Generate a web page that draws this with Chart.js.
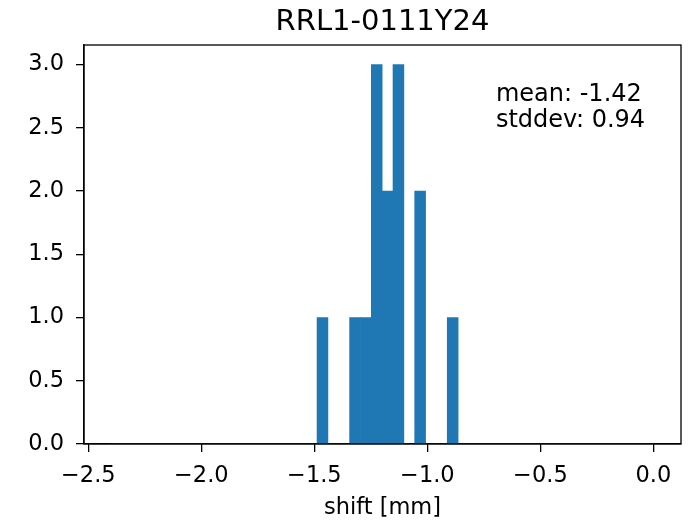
<!DOCTYPE html>
<html>
<head>
<meta charset="utf-8">
<script src="https://cdn.jsdelivr.net/npm/chart.js@4"></script>
<style>
  html, body { margin: 0; padding: 0; background: #fff; }
  #wrap { width: 700px; height: 524px; }
</style>
</head>
<body>
<div id="wrap"><canvas id="myChart"></canvas></div>
<script>
// histogram bins (50 bins from -2.4 to 0.0)
const binStart = -2.4
const binWidth = 0.048
const counts = [
  0, 0, 0, 0, 0, 0, 0, 0, 0, 0,
  0, 0, 0, 0, 0, 0, 0, 0, 0, 1,
  0, 0, 1, 1, 3, 2, 3, 0, 2, 0,
  0, 1, 0, 0, 0, 0, 0, 0, 0, 0,
  0, 0, 0, 0, 0, 0, 0, 0, 0, 0
]
const xTicks = [-2.5, -2.0, -1.5, -1.0, -0.5, 0.0]
const yTicks = [0, 0.5, 1.0, 1.5, 2.0, 2.5, 3.0]
const titleText = 'RRL1-0111Y24'
const statLines = ['mean: -1.42', 'stddev: 0.94']

const font = 'DejaVu Sans'
const fmt = (v) => v.toFixed(1).replace('-', '\u2212')

const points = counts.map((c, i) => ({ x: binStart + (i + 0.5) * binWidth, y: c }))

// frame, title and the stats text
const extras = {
  id: 'extras',
  afterDraw(chart) {
    const { ctx, chartArea: a } = chart
    ctx.save()
    ctx.strokeStyle = '#000'
    ctx.lineWidth = 1.3
    ctx.strokeRect(a.left, a.top, a.right - a.left, a.bottom - a.top)

    ctx.fillStyle = '#000'
    ctx.textAlign = 'center'
    ctx.textBaseline = 'alphabetic'
    ctx.font = '29px "' + font + '"'
    ctx.fillText(titleText, (a.left + a.right) / 2, 30)

    ctx.textAlign = 'left'
    ctx.font = '24px "' + font + '"'
    const x0 = a.left + 0.69 * (a.right - a.left)
    statLines.forEach((t, i) => ctx.fillText(t, x0, 101 + i * 26))
    ctx.restore()
  }
}

const ctx = document.getElementById('myChart').getContext('2d')
const myChart = new Chart(ctx, {
  type: 'bar',
  data: {
    datasets: [{
      data: points,
      backgroundColor: '#1f77b4',
      borderWidth: 0,
      barPercentage: 1,
      categoryPercentage: 1
    }]
  },
  options: {
    responsive: true,
    maintainAspectRatio: false,
    animation: false,
    layout: { padding: { left: 0, top: 45, right: 19, bottom: 0 } },
    plugins: { legend: { display: false }, tooltip: { enabled: false } },
    scales: {
      x: {
        type: 'linear',
        offset: false,
        min: -2.519,
        max: 0.122,
        afterBuildTicks: (s) => { s.ticks = xTicks.map(v => ({ value: v })) },
        afterFit: (s) => { s.height = 80 },
        ticks: {
          color: '#000',
          padding: 11,
          maxRotation: 0,
          autoSkip: false,
          font: { family: font, size: 22.5 },
          callback: (v) => fmt(v)
        },
        grid: { offset: false, drawOnChartArea: false, drawTicks: true, tickLength: 8, color: '#000', lineWidth: 1.3 },
        border: { display: true, color: '#000', width: 1.3 },
        title: {
          display: true,
          text: 'shift [mm]',
          color: '#000',
          font: { family: font, size: 22.5 },
          padding: { top: 0, bottom: 2 }
        }
      },
      y: {
        min: 0,
        max: 3.155,
        afterBuildTicks: (s) => { s.ticks = yTicks.map(v => ({ value: v })) },
        afterFit: (s) => { s.width = 84 },
        ticks: {
          color: '#000',
          padding: 12,
          autoSkip: false,
          font: { family: font, size: 22.5 },
          callback: (v) => fmt(v)
        },
        grid: { offset: false, drawOnChartArea: false, drawTicks: true, tickLength: 8, color: '#000', lineWidth: 1.3 },
        border: { display: true, color: '#000', width: 1.3 }
      }
    }
  },
  plugins: [extras]
})
</script>
</body>
</html>
